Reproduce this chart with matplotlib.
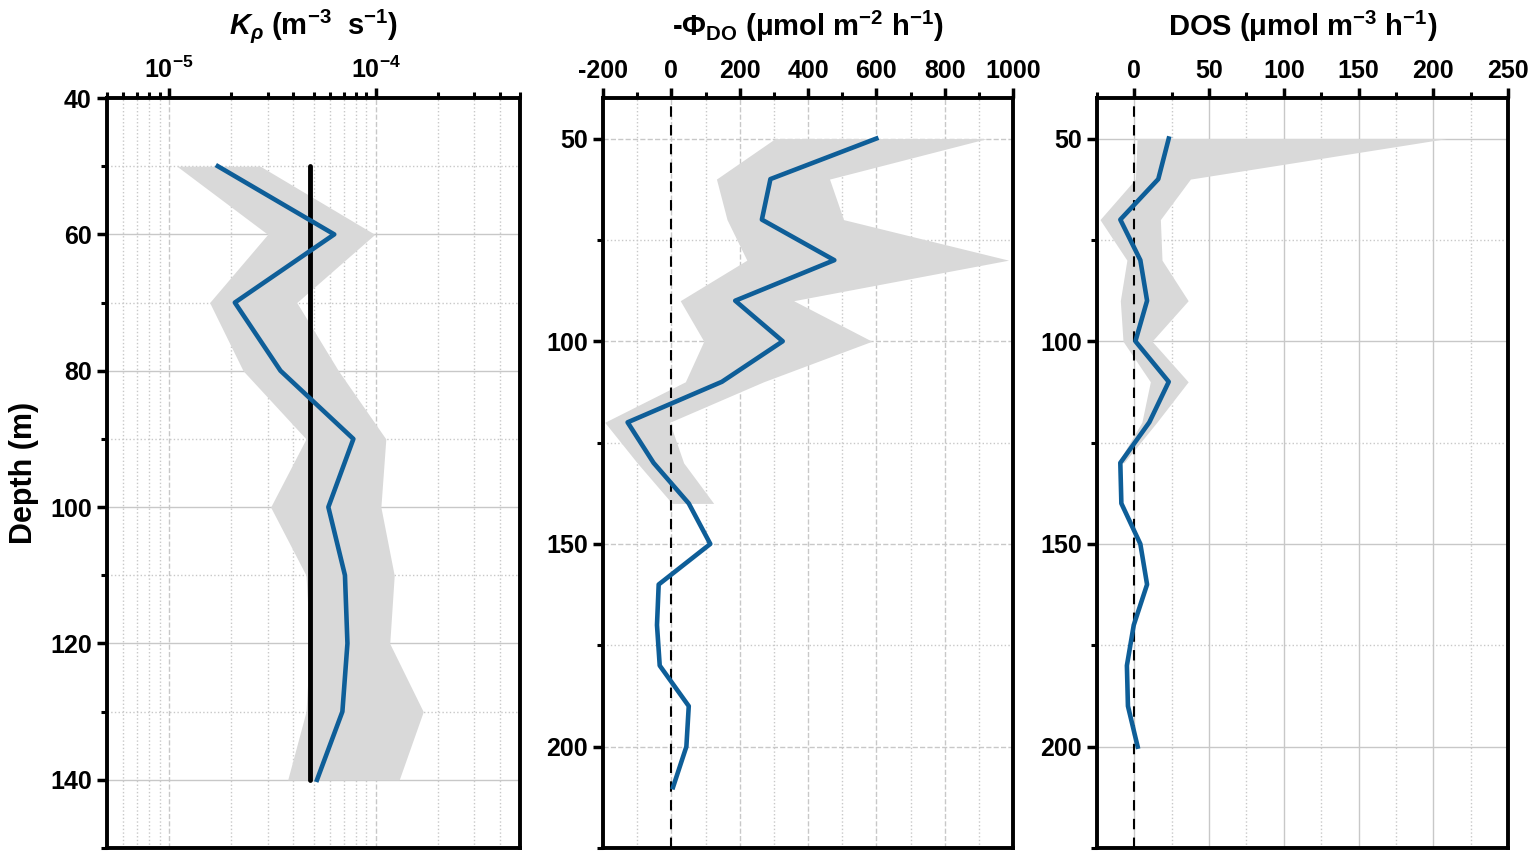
import numpy as np
import matplotlib
matplotlib.use("Agg")
import matplotlib.pyplot as plt
from matplotlib.ticker import MultipleLocator, LogLocator, FixedLocator, NullFormatter

plt.rcParams['font.family'] = ['Liberation Sans', 'DejaVu Sans']
plt.rcParams['font.weight'] = 'bold'
plt.rcParams['axes.unicode_minus'] = False
plt.rcParams['mathtext.fontset'] = 'custom'
plt.rcParams['mathtext.rm'] = 'Liberation Sans:bold'
plt.rcParams['mathtext.it'] = 'Liberation Sans:italic:bold'
plt.rcParams['mathtext.bf'] = 'Liberation Sans:bold'

# ---- Kp panel ----
kp_depth = [50, 60, 70, 80, 90, 100, 110, 120, 130, 140]
kp_mean = [1.72e-5, 6.3e-5, 2.08e-5, 3.46e-5, 7.8e-5, 5.9e-5, 7.1e-5, 7.3e-5, 6.9e-5, 5.2e-5]
kp_low = [1.09e-5, 3.0e-5, 1.57e-5, 2.28e-5, 4.6e-5, 3.1e-5, 4.6e-5, 4.8e-5, 4.6e-5, 3.75e-5]
kp_high = [2.76e-5, 9.9e-5, 4.15e-5, 6.6e-5, 1.12e-4, 1.06e-4, 1.23e-4, 1.17e-4, 1.7e-4, 1.3e-4]
kp_ref = 4.8e-5

# ---- flux panel ----
flux_depth = [50, 60, 70, 80, 90, 100, 110, 120, 130, 140, 150, 160, 170, 180, 190, 200, 210]
flux_mean = [600, 290, 265, 477, 187, 326, 148, -128, -52, 51, 114, -37, -42, -34, 51, 44, 5]
flux_band_depth = [50, 60, 70, 80, 90, 100, 110, 120, 130, 140]
flux_low = [304, 132, 163, 221, 26, 95, 41, -195, -100, 2]
flux_high = [924, 463, 504, 987, 358, 587, 270, -5, 36, 124]

# ---- DOS panel ----
dos_depth = [50, 60, 70, 80, 90, 100, 110, 120, 130, 140, 150, 160, 170, 180, 190, 200]
dos_mean = [23, 16, -9.4, 4, 8.5, 0.7, 23, 10, -9.4, -8.7, 4, 8.5, -0.4, -5, -4.3, 2.2]
dos_band_depth = [50, 60, 70, 80, 90, 100, 110, 120, 130]
dos_low = [1.8, 0.7, -23, -5, -9.4, -7.6, 10.7, 5, -11]
dos_high = [209, 37.5, 17.4, 18.5, 36, 11.8, 36, 15, -7]

blue = '#0e5e98'
band = '#d9d9d9'
grid_c = '#c8c8c8'

fig = plt.figure(figsize=(15.36, 8.56), dpi=100)
ax1 = fig.add_axes([107/1536, 8/856, 413/1536, 750/856])
ax2 = fig.add_axes([603/1536, 8/856, 410/1536, 750/856])
ax3 = fig.add_axes([1097/1536, 8/856, 411/1536, 750/856])


def style(ax):
    for s in ax.spines.values():
        s.set_linewidth(2.8)
    ax.xaxis.tick_top()
    ax.xaxis.set_label_position('top')
    ax.tick_params(axis='both', which='major', direction='out', length=7, width=2.5,
                   labelsize=18, pad=4)
    ax.tick_params(axis='both', which='minor', direction='out', length=4, width=2.2)
    ax.tick_params(axis='x', which='both', top=True, bottom=False)
    ax.tick_params(axis='y', which='both', left=True, right=False)
    ax.set_axisbelow(True)
    for lab in ax.get_xticklabels() + ax.get_yticklabels():
        lab.set_fontweight('bold')


# left panel
ax1.fill_betweenx(kp_depth, kp_low, kp_high, color=band, lw=0, zorder=1)
ax1.plot([kp_ref, kp_ref], [kp_depth[0], kp_depth[-1]], color='black', lw=3.5,
         solid_capstyle='round', zorder=3)
ax1.plot(kp_mean, kp_depth, color=blue, lw=3.3, zorder=4)
ax1.set_xscale('log')
ax1.set_xlim(5e-6, 5e-4)
ax1.set_ylim(150, 40)
ax1.xaxis.set_major_locator(FixedLocator([1e-5, 1e-4]))
ax1.xaxis.set_minor_locator(LogLocator(base=10, subs=np.arange(2, 10)))
ax1.xaxis.set_minor_formatter(NullFormatter())
ax1.set_xticklabels([r'$\mathregular{10^{-5}}$', r'$\mathregular{10^{-4}}$'])
ax1.yaxis.set_major_locator(MultipleLocator(20))
ax1.yaxis.set_minor_locator(MultipleLocator(10))
ax1.grid(True, which='major', axis='x', color=grid_c, ls='--', lw=1)
ax1.grid(True, which='minor', axis='x', color=grid_c, ls=':', lw=1)
ax1.grid(True, which='major', axis='y', color=grid_c, ls='-', lw=1)
ax1.grid(True, which='minor', axis='y', color=grid_c, ls=':', lw=1)
style(ax1)
ax1.set_xlabel(r'$K_{\rho}$ (m$^{-3}$  s$^{-1}$)', fontsize=21, fontweight='bold', labelpad=16)
ax1.set_ylabel('Depth (m)', fontsize=22, fontweight='bold', labelpad=8)

# middle panel
ax2.fill_betweenx(flux_band_depth, flux_low, flux_high, color=band, lw=0, zorder=1)
ax2.axvline(0, color='black', ls=(0, (5, 4)), lw=1.5, zorder=2)
ax2.plot(flux_mean, flux_depth, color=blue, lw=3.3, zorder=4)
ax2.set_xlim(-200, 1000)
ax2.set_ylim(225, 40)
ax2.xaxis.set_major_locator(MultipleLocator(200))
ax2.xaxis.set_minor_locator(MultipleLocator(100))
ax2.yaxis.set_major_locator(MultipleLocator(50))
ax2.yaxis.set_minor_locator(MultipleLocator(25))
ax2.grid(True, which='major', color=grid_c, ls='--', lw=1)
ax2.grid(True, which='minor', color=grid_c, ls=':', lw=1)
style(ax2)
ax2.set_xlabel(r'-Φ$_{\mathregular{DO}}$ (μmol m$^{-2}$ h$^{-1}$)', fontsize=21,
               fontweight='bold', labelpad=16)

# right panel
ax3.fill_betweenx(dos_band_depth, dos_low, dos_high, color=band, lw=0, zorder=1)
ax3.axvline(0, color='black', ls=(0, (5, 4)), lw=1.5, zorder=2)
ax3.plot(dos_mean, dos_depth, color=blue, lw=3.3, zorder=4)
ax3.set_xlim(-25, 250)
ax3.set_ylim(225, 40)
ax3.xaxis.set_major_locator(MultipleLocator(50))
ax3.xaxis.set_minor_locator(MultipleLocator(25))
ax3.yaxis.set_major_locator(MultipleLocator(50))
ax3.yaxis.set_minor_locator(MultipleLocator(25))
ax3.grid(True, which='major', color=grid_c, ls='-', lw=1)
ax3.grid(True, which='minor', color=grid_c, ls=':', lw=1)
style(ax3)
ax3.set_xlabel(r'DOS (μmol m$^{-3}$ h$^{-1}$)', fontsize=21, fontweight='bold', labelpad=16)

fig.savefig('out.png', dpi=100)
